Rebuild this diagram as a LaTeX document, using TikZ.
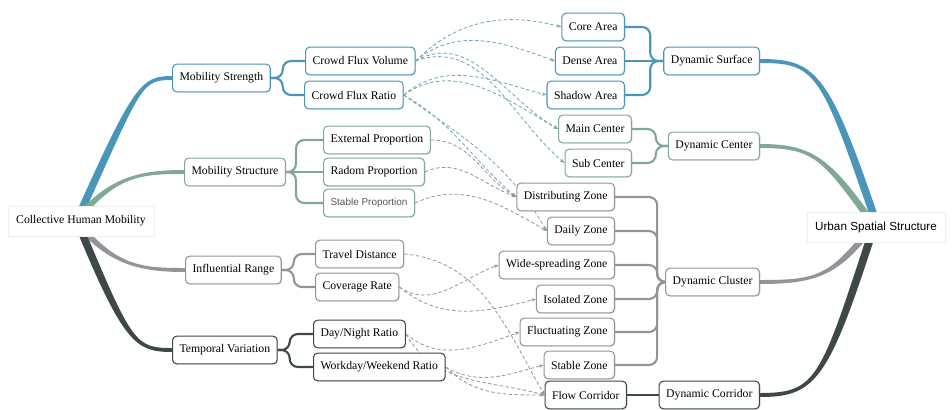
\documentclass[tikz,border=0pt]{standalone}
\usepackage{fontspec}
\setmainfont{Liberation Serif}
\newfontfamily\sansf{Liberation Sans}
\usetikzlibrary{arrows.meta,shadows,backgrounds}
\definecolor{cblue}{RGB}{74,150,186}
\definecolor{cgreen}{RGB}{128,168,148}
\definecolor{cgray}{RGB}{145,148,152}
\definecolor{cdark}{RGB}{62,72,72}
\definecolor{lblue}{RGB}{111,165,185}
\definecolor{lgray}{RGB}{150,150,150}
\begin{document}
\begin{tikzpicture}[x=0.3mm,y=0.3mm,
    box/.style={draw=#1,line width=0.9pt,fill=white,rounded corners=3.5pt,inner xsep=6pt,
        minimum height=8.3mm,font=\fontsize{10}{12}\selectfont,
        drop shadow={shadow xshift=0.7pt,shadow yshift=-0.7pt,opacity=0.25}},
    topbox/.style={fill=white,draw=black!6,minimum height=9mm,inner xsep=7pt,
        drop shadow={shadow xshift=0pt,shadow yshift=-1pt,opacity=0.2}},
    twig/.style={line width=1.8pt,draw=#1,rounded corners=7pt},
    flux/.style={densely dashed,line width=0.7pt,draw=#1,-{Stealth[length=4pt,width=3pt]}}]
\useasboundingbox (0,0) rectangle (952,-409);
% roots
\node[topbox] (root) at (81,-221) {Collective Human Mobility};
\node[topbox,font=\sansf] (urban) at (876,-227) {Urban Spatial Structure};
% left side
\node[box=cblue,anchor=west] (ms) at (172,-78) {Mobility Strength};
\node[box=cgreen,anchor=west] (mst) at (184,-172) {Mobility Structure};
\node[box=cgray,anchor=west] (ir) at (185,-270) {Influential Range};
\node[box=cdark,anchor=west] (tv) at (172,-350) {Temporal Variation};
\node[box=cblue,anchor=west] (cfv) at (305,-61) {Crowd Flux Volume};
\node[box=cblue,anchor=west] (cfr) at (304,-95) {Crowd Flux Ratio};
\node[box=cgreen,anchor=west] (ext) at (323,-140) {External Proportion};
\node[box=cgreen,anchor=west] (rad) at (323,-172) {Radom Proportion};
\node[box=cgreen,anchor=west,font=\sansf\fontsize{8.5}{10}\selectfont,text=black!65] (stp) at (323,-203) {Stable Proportion};
\node[box=cgray,anchor=west] (trd) at (315,-254) {Travel Distance};
\node[box=cgray,anchor=west] (cov) at (315,-287) {Coverage Rate};
\node[box=cdark,anchor=west] (dnr) at (313,-334) {Day/Night Ratio};
\node[box=cdark,anchor=west] (wwr) at (313,-367) {Workday/Weekend Ratio};
% right side
\node[box=cblue,anchor=east] (core) at (625,-27) {Core Area};
\node[box=cblue,anchor=east] (dense) at (625,-61) {Dense Area};
\node[box=cblue,anchor=east] (shadow) at (625,-95) {Shadow Area};
\node[box=cgreen,anchor=east] (main) at (632,-129) {Main Center};
\node[box=cgreen,anchor=east] (sub) at (632,-163) {Sub Center};
\node[box=cgray,anchor=east] (dist) at (615,-197) {Distributing Zone};
\node[box=cgray,anchor=east] (daily) at (615,-231) {Daily Zone};
\node[box=cgray,anchor=east] (wide) at (615,-265) {Wide-spreading Zone};
\node[box=cgray,anchor=east] (iso) at (615,-299) {Isolated Zone};
\node[box=cgray,anchor=east] (fluc) at (615,-332) {Fluctuating Zone};
\node[box=cgray,anchor=east] (stz) at (615,-365) {Stable Zone};
\node[box=cdark,anchor=east] (flow) at (627,-395) {Flow Corridor};
\node[box=cblue,anchor=east] (dsurf) at (760,-61) {Dynamic Surface};
\node[box=cgreen,anchor=east] (dcen) at (760,-146) {Dynamic Center};
\node[box=cgray,anchor=east] (dclu) at (760,-282) {Dynamic Cluster};
\node[box=cdark,anchor=east] (dcor) at (760,-395) {Dynamic Corridor};
\begin{scope}[on background layer]
\foreach \col/\from/\dx/\ca/\cb/\sy/\to in {
    cblue/root.north/2/{55,122}/{-30,0}/1/ms.west,
    cgreen/root.north/7/{30,30}/{-40,0}/1/mst.west,
    cgray/root.south/7/{30,-30}/{-40,0}/-1/ir.west,
    cdark/root.south/2/{45,-108}/{-35,0}/-1/tv.west,
    cblue/urban.north/-3/{-48,140}/{55,0}/-1/dsurf.east,
    cgreen/urban.north/-10/{-40,55}/{50,0}/-1/dcen.east,
    cgray/urban.south/-14/{-30,-35}/{50,0}/1/dclu.east,
    cdark/urban.south/-6/{-45,-138}/{55,0}/1/dcor.east}
  \fill[\col] ([xshift={\dx pt-3.5pt}]\from) .. controls +(\ca) and +(\cb) .. ([yshift={\sy*1.7pt}]\to)
     -- ([yshift={-\sy*1.7pt}]\to) .. controls +(\cb) and +(\ca) .. ([xshift={\dx pt+3.5pt}]\from) -- cycle;
\draw[twig=cblue] (ms.east) -- ++(12,0) |- (cfv.west);
\draw[twig=cblue] (ms.east) -- ++(12,0) |- (cfr.west);
\draw[twig=cgreen] (mst.east) -- ++(10,0) |- (ext.west);
\draw[twig=cgreen] (mst.east) -- (rad.west);
\draw[twig=cgreen] (mst.east) -- ++(10,0) |- (stp.west);
\draw[twig=cgray] (ir.east) -- ++(12,0) |- (trd.west);
\draw[twig=cgray] (ir.east) -- ++(12,0) |- (cov.west);
\draw[twig=cdark] (tv.east) -- ++(12,0) |- (dnr.west);
\draw[twig=cdark] (tv.east) -- ++(12,0) |- (wwr.west);
\draw[twig=cblue] (dsurf.west) -- ++(-13,0) |- (core.east);
\draw[twig=cblue] (dsurf.west) -- (dense.east);
\draw[twig=cblue] (dsurf.west) -- ++(-13,0) |- (shadow.east);
\draw[twig=cgreen] (dcen.west) -- ++(-12,0) |- (main.east);
\draw[twig=cgreen] (dcen.west) -- ++(-12,0) |- (sub.east);
\foreach \z in {dist,daily,wide,iso,fluc,stz}
    \draw[twig=cgray] (dclu.west) -- ++(-8,0) |- (\z.east);
\draw[twig=cdark] (flow.east) -- (dcor.west);
\draw[flux=lblue] (cfv.east) to[out=45,in=165] (core.west);
\draw[flux=lblue] (cfv.east) to[out=40,in=160] (dense.west);
\draw[flux=lblue] (cfv.east) to[out=30,in=150] (main.west);
\draw[flux=lblue] (cfv.east) to[out=20,in=140] (sub.west);
\draw[flux=lblue] (cfr.east) to[out=40,in=165] (shadow.west);
\draw[flux=lblue] (cfr.east) to[out=35,in=150] (main.west);
\draw[flux=lblue] (cfr.east) to[out=-30,in=140] (dist.west);
\draw[flux=lblue] (cfr.east) to[out=-35,in=120] (daily.west);
\draw[flux=lgray] (ext.east) to[out=0,in=150] (dist.west);
\draw[flux=lgray] (rad.east) to[out=25,in=160] (dist.west);
\draw[flux=lgray] (stp.east) to[out=25,in=150] (daily.west);
\draw[flux=lgray] (trd.east) to[out=-5,in=120] (flow.west);
\draw[flux=lgray] (cov.east) to[out=-35,in=200] (wide.west);
\draw[flux=lgray] (cov.east) to[out=-40,in=195] (iso.west);
\draw[flux=lgray] (dnr.east) to[out=-40,in=200] (fluc.west);
\draw[flux=lgray] (dnr.east) to[out=-60,in=165] (flow.west);
\draw[flux=lgray] (wwr.east) to[out=-30,in=195] (stz.west);
\draw[flux=lgray] (wwr.east) to[out=-45,in=180] (flow.west);
\end{scope}
\end{tikzpicture}
\end{document}
